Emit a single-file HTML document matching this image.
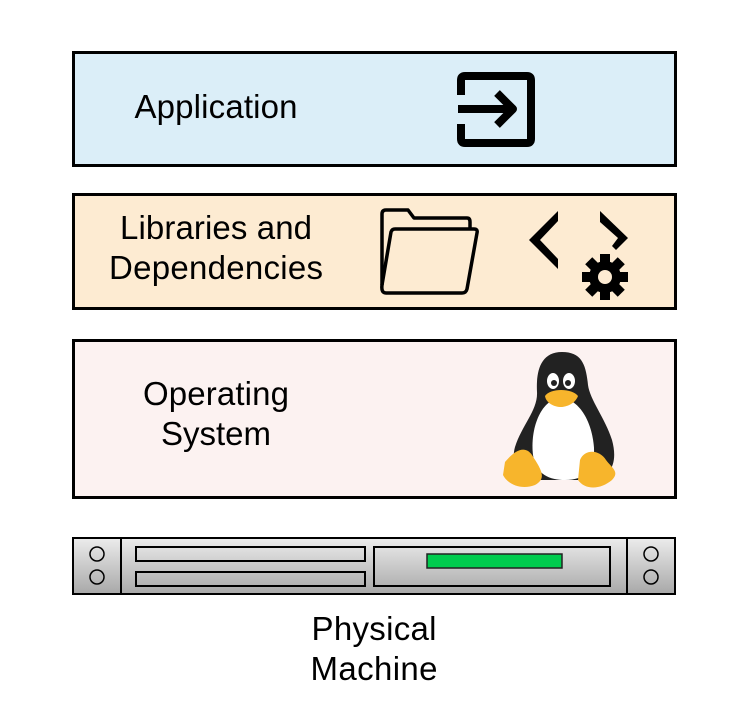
<!DOCTYPE html>
<html><head><meta charset="utf-8"><style>
body{margin:0;width:750px;height:718px;background:#fff;overflow:hidden}
svg{display:block}
text{font-family:"Liberation Sans",sans-serif;font-size:33px;fill:#000}
</style></head><body>
<svg width="750" height="718" viewBox="0 0 750 718">
<defs>
<linearGradient id="g" x1="0" y1="0" x2="0" y2="1"><stop offset="0" stop-color="#ececec"/><stop offset="1" stop-color="#a8a8a8"/></linearGradient>
</defs>
<rect x="73.5" y="52.5" width="602" height="113" fill="#dbeef8" stroke="#000" stroke-width="3"/>
<text x="216" y="118" text-anchor="middle" textLength="163">Application</text>
<g fill="none" stroke="#000" stroke-width="8" stroke-linejoin="round">
<path d="M461 95 V80 Q461 76 465 76 H527 Q531 76 531 80 V139 Q531 143 527 143 H465 Q461 143 461 139 V124"/>
<path d="M458 109 H512 M497 93 L513 109 L497 125"/>
</g>
<rect x="73.5" y="194.5" width="602" height="114" fill="#fdebd2" stroke="#000" stroke-width="3"/>
<text x="216" y="239" text-anchor="middle" textLength="192">Libraries and</text>
<text x="216" y="279" text-anchor="middle" textLength="214">Dependencies</text>
<g fill="none" stroke="#000" stroke-width="3.5" stroke-linejoin="round">
<path d="M382 285 V214 Q382 210 386 210 H408 L414 218 H467 Q470 218 470 222 V228"/>
<path d="M382 285 L391 232 Q392 229 395 229 H474 Q478 229 477 233 L467 289 Q466 293 462 293 H386 Q381 293 382 285 Z"/>
</g>
<path d="M558 211 L529 240 L558 269 L558 259 L540 240 L558 221 Z"/>
<path d="M600 211 L628 238 L616 250 L612 246 L618 238 L600 222 Z"/>
<g transform="translate(605,277)">
<circle r="16" fill="#000"/>
<g fill="#000"><rect x="-5" y="-23" width="10" height="46"/><rect x="-23" y="-5" width="46" height="10"/>
<rect x="-5" y="-23" width="10" height="46" transform="rotate(45)"/><rect x="-5" y="-23" width="10" height="46" transform="rotate(-45)"/></g>
<circle r="7" fill="#fdebd2"/>
</g>
<rect x="73.5" y="340.5" width="602" height="157" fill="#fcf2f1" stroke="#000" stroke-width="3"/>
<text x="216" y="405" text-anchor="middle" textLength="146">Operating</text>
<text x="216" y="445" text-anchor="middle" textLength="110">System</text>
<g>
<path d="M562 352 C540 352 536 372 537 392 C538 410 522 425 515 447 C510 465 520 478 540 480 L590 480 C612 478 618 462 612 440 C605 418 590 400 588 385 C586 365 582 352 562 352 Z" fill="#222"/>
<path d="M560 398 C540 400 530 430 533 455 C536 475 550 480 565 480 C585 480 595 470 594 448 C592 420 578 398 560 398 Z" fill="#fff"/>
<ellipse cx="553" cy="381" rx="6" ry="8" fill="#fff"/><ellipse cx="569" cy="381" rx="6" ry="8" fill="#fff"/>
<circle cx="554" cy="383" r="3" fill="#222"/><circle cx="568" cy="383" r="3" fill="#222"/>
<path d="M545 396 C550 388 572 388 578 396 C575 404 566 407 561 407 C554 407 546 403 545 396 Z" fill="#f7b52c"/>
<path d="M505 462 C515 450 525 445 532 455 C540 468 548 478 535 485 C522 490 508 485 503 475 Z" fill="#f7b52c"/>
<path d="M580 460 C585 448 600 450 606 460 C612 468 620 472 612 480 C600 490 585 490 578 480 Z" fill="#f7b52c"/>
</g>
<rect x="73" y="538" width="602" height="56" fill="url(#g)" stroke="#000" stroke-width="2"/>
<path d="M121 538 V594 M627 538 V594" stroke="#000" stroke-width="2"/>
<g fill="none" stroke="#000" stroke-width="1.5">
<circle cx="97" cy="554" r="7"/><circle cx="97" cy="577" r="7"/>
<circle cx="651" cy="554" r="7"/><circle cx="651" cy="577" r="7"/>
</g>
<g fill="none" stroke="#000" stroke-width="2">
<rect x="136" y="547" width="229" height="14"/><rect x="136" y="572" width="229" height="14"/>
<rect x="374" y="547" width="236" height="39"/>
</g>
<rect x="427" y="554" width="135" height="14" fill="#00cc4e" stroke="#222" stroke-width="1.5"/>
<text x="374" y="640" text-anchor="middle" textLength="125">Physical</text>
<text x="374" y="680" text-anchor="middle" textLength="127">Machine</text>
</svg>
</body></html>
